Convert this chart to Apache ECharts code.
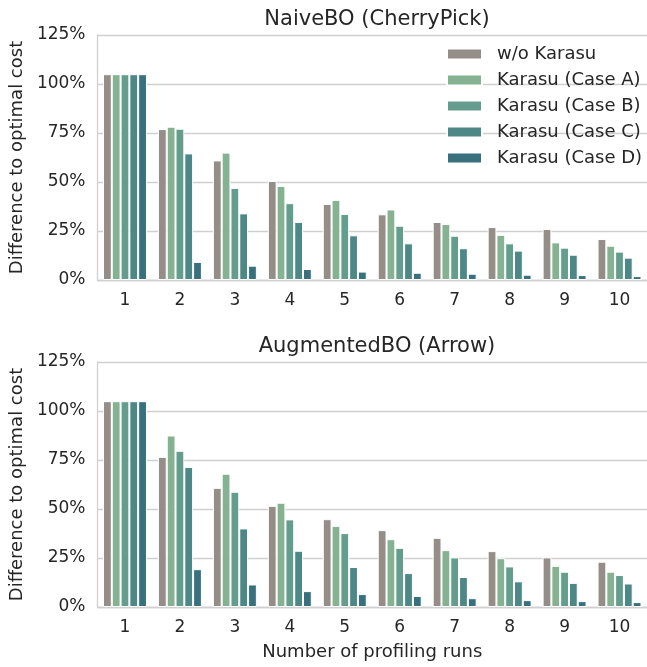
<!DOCTYPE html>
<html><head><meta charset="utf-8">
<script src="https://cdn.jsdelivr.net/npm/echarts@6/dist/echarts.min.js"></script>
<style>html,body{margin:0;padding:0;background:#fff}#c{width:647px;height:667px}</style>
</head><body><div id="c"></div>
<script>
const categories = ['1','2','3','4','5','6','7','8','9','10'];
const seriesNames = ['w/o Karasu','Karasu (Case A)','Karasu (Case B)','Karasu (Case C)','Karasu (Case D)'];
const colors = ['#948d88','#85b291','#649d8d','#4e8886','#38707e'];
// NaiveBO (CherryPick)
const naiveWo = [105, 77, 61, 50.5, 38.8, 33.5, 29.6, 27, 26, 20.9];
const naiveA  = [105, 78.2, 65, 48, 40.8, 36, 28.6, 23, 19.2, 17.5];
const naiveB  = [105, 77.2, 47, 39.2, 33.7, 27.7, 22.6, 18.7, 16.5, 14.5];
const naiveC  = [105, 64.6, 34, 29.6, 22.8, 18.7, 16.2, 15, 12.9, 11.4];
const naiveD  = [105, 9.2, 7.3, 5.6, 4.3, 3.7, 3.2, 2.7, 2.5, 2];
// AugmentedBO (Arrow)
const augWo = [105, 76.6, 60.8, 51.6, 44.8, 39.2, 35.3, 28.5, 25.3, 23.1];
const augA  = [105, 87.5, 68, 53.2, 41.4, 34.6, 29, 24.9, 21, 18];
const augB  = [105, 79.7, 58.8, 44.7, 37.7, 30.2, 25.3, 20.7, 18, 16.3];
const augC  = [105, 71.4, 40.1, 28.7, 20.4, 17.3, 15.3, 13.1, 12.3, 12];
const augD  = [105, 19.3, 11.5, 8.1, 6.6, 5.6, 4.5, 3.5, 3, 2.5];
const yTicks = [0, 25, 50, 75, 100, 125];

const txt = '#262626';
const gridColor = '#d0d0d0';
const F = 'DejaVu Sans';
function xAxis(i, name){
  return {type:'category', gridIndex:i, data:categories,
    axisLine:{show:true, lineStyle:{color:gridColor, width:1.3}}, axisTick:{show:false},
    axisLabel:{color:txt, fontSize:17, fontFamily:F, margin:12},
    name:name, nameLocation:'middle', nameGap:36,
    nameTextStyle:{color:txt, fontSize:18, fontFamily:F}};
}
function yAxis(i){
  return {type:'value', gridIndex:i, min:yTicks[0], max:yTicks[yTicks.length-1], interval:25,
    axisLine:{show:true, lineStyle:{color:gridColor, width:1.3}}, axisTick:{show:false},
    splitLine:{lineStyle:{color:gridColor, width:1.3}},
    axisLabel:{formatter:'{value}%', color:txt, fontSize:17, fontFamily:F, margin:12},
    name:'Difference to optimal cost', nameLocation:'middle', nameGap:70, nameRotate:90,
    nameTextStyle:{color:txt, fontSize:18, fontFamily:F}};
}
const naive = [naiveWo, naiveA, naiveB, naiveC, naiveD];
const aug = [augWo, augA, augB, augC, augD];
const series = [];
[naive, aug].forEach((set, gi) => {
  set.forEach((d, si) => {
    series.push({type:'bar', name:seriesNames[si], xAxisIndex:gi, yAxisIndex:gi, data:d,
      barGap:'0%', barCategoryGap:'20%',
      itemStyle:{color:colors[si], borderColor:'#fff', borderWidth:1}});
  });
});
const chart = echarts.init(document.getElementById('c'), null, {renderer:'canvas'});
chart.setOption({
  animation:false,
  color:colors,
  textStyle:{fontFamily:F},
  title:[
    {text:'NaiveBO (CherryPick)', left:372, top:4, textAlign:'center', textStyle:{color:txt, fontSize:21, fontWeight:'normal', fontFamily:F}},
    {text:'AugmentedBO (Arrow)', left:372, top:331, textAlign:'center', textStyle:{color:txt, fontSize:21, fontWeight:'normal', fontFamily:F}}
  ],
  legend:{data:seriesNames, orient:'vertical', left:441, top:40, itemWidth:35, itemHeight:11, itemGap:8,
    icon:'rect', textStyle:{color:txt, fontSize:18, fontFamily:F, padding:[0,0,0,10]}},
  grid:[
    {left:96, top:35, width:556, height:245},
    {left:96, top:362, width:556, height:245}
  ],
  xAxis:[xAxis(0,''), xAxis(1,'Number of profiling runs')],
  yAxis:[yAxis(0), yAxis(1)],
  series:series
});
</script></body></html>
